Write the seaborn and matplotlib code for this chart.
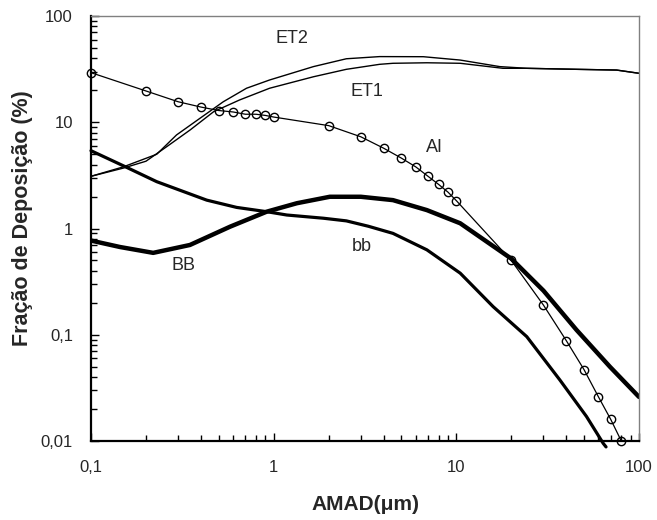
import matplotlib
matplotlib.use("Agg")
import matplotlib.pyplot as plt
import seaborn as sns
from matplotlib.ticker import FixedLocator, LogLocator, NullFormatter

# ---- data ----
ai_x = [0.1, 0.2, 0.3, 0.4, 0.5, 0.6, 0.7, 0.8, 0.9, 1.0, 2, 3, 4, 5, 6, 7, 8, 9, 10,
        20, 30, 40, 50, 60, 70, 80]
ai_y = [29.3, 19.7, 15.6, 13.9, 12.9, 12.5, 11.9, 11.9, 11.6, 11.2, 9.3, 7.3, 5.7, 4.6,
        3.8, 3.1, 2.6, 2.2, 1.83, 0.50, 0.19, 0.088, 0.047, 0.026, 0.016, 0.010]

et2_x = [0.1, 0.15, 0.229, 0.294, 0.395, 0.53, 0.71, 0.95, 1.65, 2.5, 3.8, 6.6, 10.5,
         17.3, 24.3, 45.5, 75.4, 100]
et2_y = [3.1, 3.8, 5.0, 7.6, 10.9, 15.6, 20.9, 25, 33.4, 39.6, 41.5, 41.4, 38.5,
         33.4, 32.2, 31.5, 31.0, 28.9]

et1_x = [0.1, 0.15, 0.2, 0.26, 0.35, 0.47, 0.65, 0.95, 1.65, 2.5, 3.8, 4.5, 6.9, 10.5,
         18, 24.3, 45.5, 75.4, 100]
et1_y = [3.1, 3.7, 4.3, 5.9, 8.5, 12.6, 16.2, 20.9, 26.8, 31.5, 35.1, 35.9, 36.3, 35.9,
         32.2, 32.2, 31.5, 31.0, 28.9]

bb_x = [0.1, 0.15, 0.229, 0.43, 0.627, 0.916, 1.18, 1.87, 2.5, 3.3, 4.5, 6.9, 10.5,
        15.9, 24.3, 36.9, 51.6, 63.7, 66]
bb_y = [5.4, 3.9, 2.76, 1.85, 1.58, 1.44, 1.34, 1.25, 1.18, 1.05, 0.90, 0.63, 0.38,
        0.184, 0.096, 0.0375, 0.017, 0.0095, 0.0088]

BB_x = [0.1, 0.144, 0.219, 0.348, 0.577, 0.916, 1.34, 2.03, 3.0, 4.5, 6.9, 10.5, 20,
        30, 45.5, 69.3, 100]
BB_y = [0.77, 0.67, 0.59, 0.70, 1.04, 1.44, 1.73, 1.99, 1.99, 1.85, 1.49, 1.12, 0.52,
        0.26, 0.111, 0.050, 0.026]

x_ticks = [0.1, 1, 10, 100]
x_labels = ["0,1", "1", "10", "100"]
y_ticks = [0.01, 0.1, 1, 10, 100]
y_labels = ["0,01", "0,1", "1", "10", "100"]

labels = ["ET2", "ET1", "AI", "bb", "BB"]
label_pos = [(1.26, 62), (3.24, 19.3), (7.6, 5.85), (3.04, 0.68), (0.319, 0.45)]

# ---- style ----
sns.set_style("white")
plt.rcParams['font.family'] = ['Liberation Sans', 'DejaVu Sans']

fig = plt.figure(figsize=(6.57, 5.2), dpi=100)
ax = fig.add_axes([0.1385, 0.1519, 0.8341, 0.8173])

common = dict(ax=ax, color='black', sort=False, estimator=None)
sns.lineplot(x=et2_x, y=et2_y, linewidth=1.0, **common)
sns.lineplot(x=et1_x, y=et1_y, linewidth=1.0, **common)
sns.lineplot(x=bb_x, y=bb_y, linewidth=2.3, clip_on=False, **common)
sns.lineplot(x=BB_x, y=BB_y, linewidth=3.2, **common)
sns.lineplot(x=ai_x, y=ai_y, linewidth=0.9, marker='o', markersize=6,
             markerfacecolor='none', markeredgecolor='black', markeredgewidth=1.0,
             clip_on=False, **common)

ax.set_xscale('log')
ax.set_yscale('log')
ax.set_xlim(0.1, 100)
ax.set_ylim(0.01, 100)

ax.xaxis.set_major_locator(FixedLocator(x_ticks))
ax.set_xticklabels(x_labels)
ax.yaxis.set_major_locator(FixedLocator(y_ticks))
ax.set_yticklabels(y_labels)
ax.xaxis.set_minor_locator(LogLocator(base=10, subs=range(2, 10)))
ax.yaxis.set_minor_locator(LogLocator(base=10, subs=range(2, 10)))
ax.xaxis.set_minor_formatter(NullFormatter())
ax.yaxis.set_minor_formatter(NullFormatter())

ax.tick_params(which='both', direction='in', bottom=True, left=True, top=False,
               right=False, color='black', width=1.0)
ax.tick_params(which='major', length=6)
ax.tick_params(which='minor', length=4)
ax.tick_params(axis='x', which='major', labelsize=12, pad=14)
ax.tick_params(axis='y', which='major', labelsize=12, pad=13)

for s in ['left', 'bottom']:
    ax.spines[s].set_color('black')
    ax.spines[s].set_linewidth(1.6)
for s in ['top', 'right']:
    ax.spines[s].set_color('#808080')
    ax.spines[s].set_linewidth(1.0)

ax.set_xlabel("AMAD(μm)", fontsize=15, fontweight='bold')
ax.set_ylabel("Fração de Deposição (%)", fontsize=15.5, fontweight='bold')
ax.xaxis.set_label_coords(0.5, -0.127)
ax.yaxis.set_label_coords(-0.106, 0.525)

for t, (lx, ly) in zip(labels, label_pos):
    ax.text(lx, ly, t, fontsize=13, ha='center', va='center')

fig.savefig("out.png", dpi=100)
